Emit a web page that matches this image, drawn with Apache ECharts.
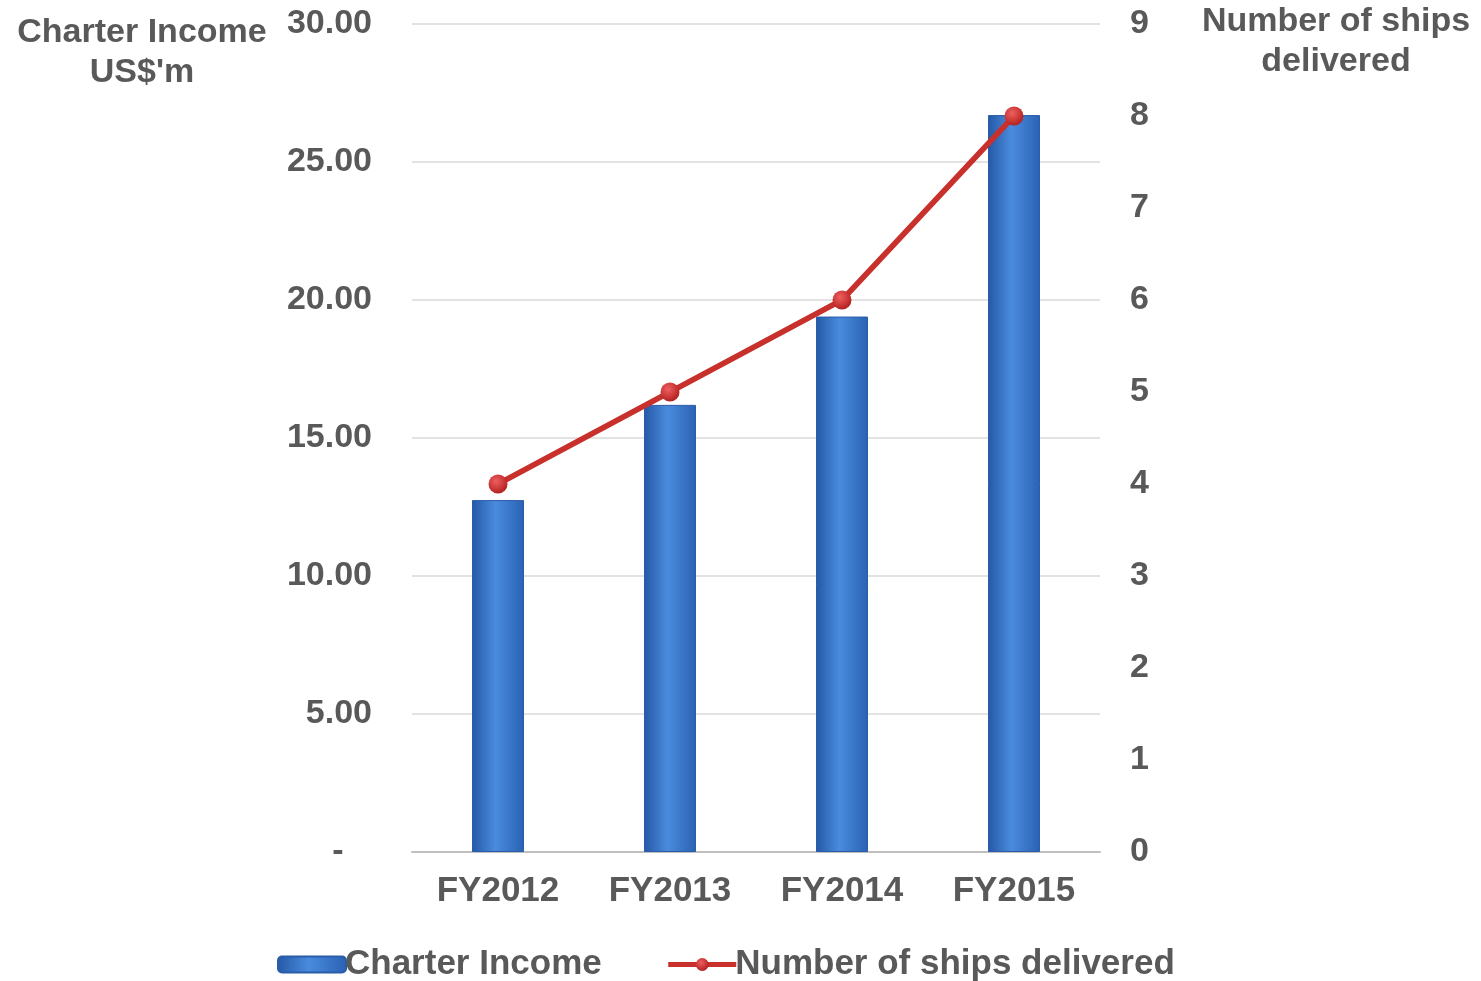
<!DOCTYPE html>
<html>
<head>
<meta charset="utf-8">
<script src="https://cdn.jsdelivr.net/npm/echarts@6/dist/echarts.min.js"></script>
<style>
html, body {margin: 0; padding: 0; background: #fff;}
#chart {width: 1481px; height: 981px;}
</style>
</head>
<body>
<div id="chart"></div>
<script>
var years = ['FY2012', 'FY2013', 'FY2014', 'FY2015'];
var income = [12.75, 16.2, 19.4, 26.7];
var ships = [4, 5, 6, 8];

var txt = '#595959';
var fnt = 'Liberation Sans';

function leftfmt(value) {
    if (value == 0) return '-   ';
    return value.toFixed(2);
};

var chart = echarts.init(document.getElementById('chart'));
var opt = {
    animation: false,
    textStyle: {fontFamily: fnt},
    grid: {left: 412, right: 381, top: 24, bottom: 129},
    xAxis: {
        type: 'category', data: years,
        axisLine: {lineStyle: {color: '#BFBFBF', width: 2}},
        axisTick: {show: false},
        axisLabel: {color: txt, fontSize: 35, fontWeight: 'bold', margin: 22}
    },
    yAxis: [
        {type: 'value', min: 0, max: 30, interval: 5,
         axisLine: {show: false}, axisTick: {show: false},
         splitLine: {lineStyle: {color: '#D9D9D9', width: 1.5}},
         axisLabel: {color: txt, fontSize: 34, fontWeight: 'bold', margin: 40, formatter: leftfmt}},
        {type: 'value', min: 0, max: 9, interval: 1,
         axisLine: {show: false}, axisTick: {show: false}, splitLine: {show: false},
         axisLabel: {color: txt, fontSize: 34, fontWeight: 'bold', margin: 30}}
    ],
    legend: {
        left: 272, top: 942, itemGap: 64, itemWidth: 68, itemHeight: 16,
        lineStyle: {width: 5},
        textStyle: {color: txt, fontSize: 35, fontWeight: 'bold', padding: [0, 0, 0, -6]},
        data: ['Charter Income', 'Number of ships delivered']
    },
    graphic: [
        {type: 'text', x: 142, y: 13, style: {text: "Charter Income\nUS$'m", fill: txt, font: 'bold 34px "Liberation Sans"', align: 'center', lineHeight: 40}},
        {type: 'text', x: 1336, y: 2, style: {text: 'Number of ships\ndelivered', fill: txt, font: 'bold 34px "Liberation Sans"', align: 'center', lineHeight: 40}}
    ],
    series: [
        {
            name: 'Charter Income', type: 'bar', data: income, barWidth: 52,
            itemStyle: {
                color: new echarts.graphic.LinearGradient(0, 0, 1, 0, [
                    {offset: 0, color: '#2458A6'},
                    {offset: 0.45, color: '#4A8BDD'},
                    {offset: 1, color: '#2A62B4'}
                ]),
                borderColor: '#2B5CA8', borderWidth: 1
            }
        },
        {
            name: 'Number of ships delivered', type: 'line', yAxisIndex: 1, data: ships,
            lineStyle: {color: '#C8302C', width: 5.5},
            symbol: 'circle', symbolSize: 19,
            itemStyle: {
                color: new echarts.graphic.RadialGradient(0.4, 0.35, 0.7, [
                    {offset: 0, color: '#F06060'},
                    {offset: 1, color: '#B01C1C'}
                ])
            }
        }
    ]
};
chart.setOption(opt);
</script>
</body>
</html>
